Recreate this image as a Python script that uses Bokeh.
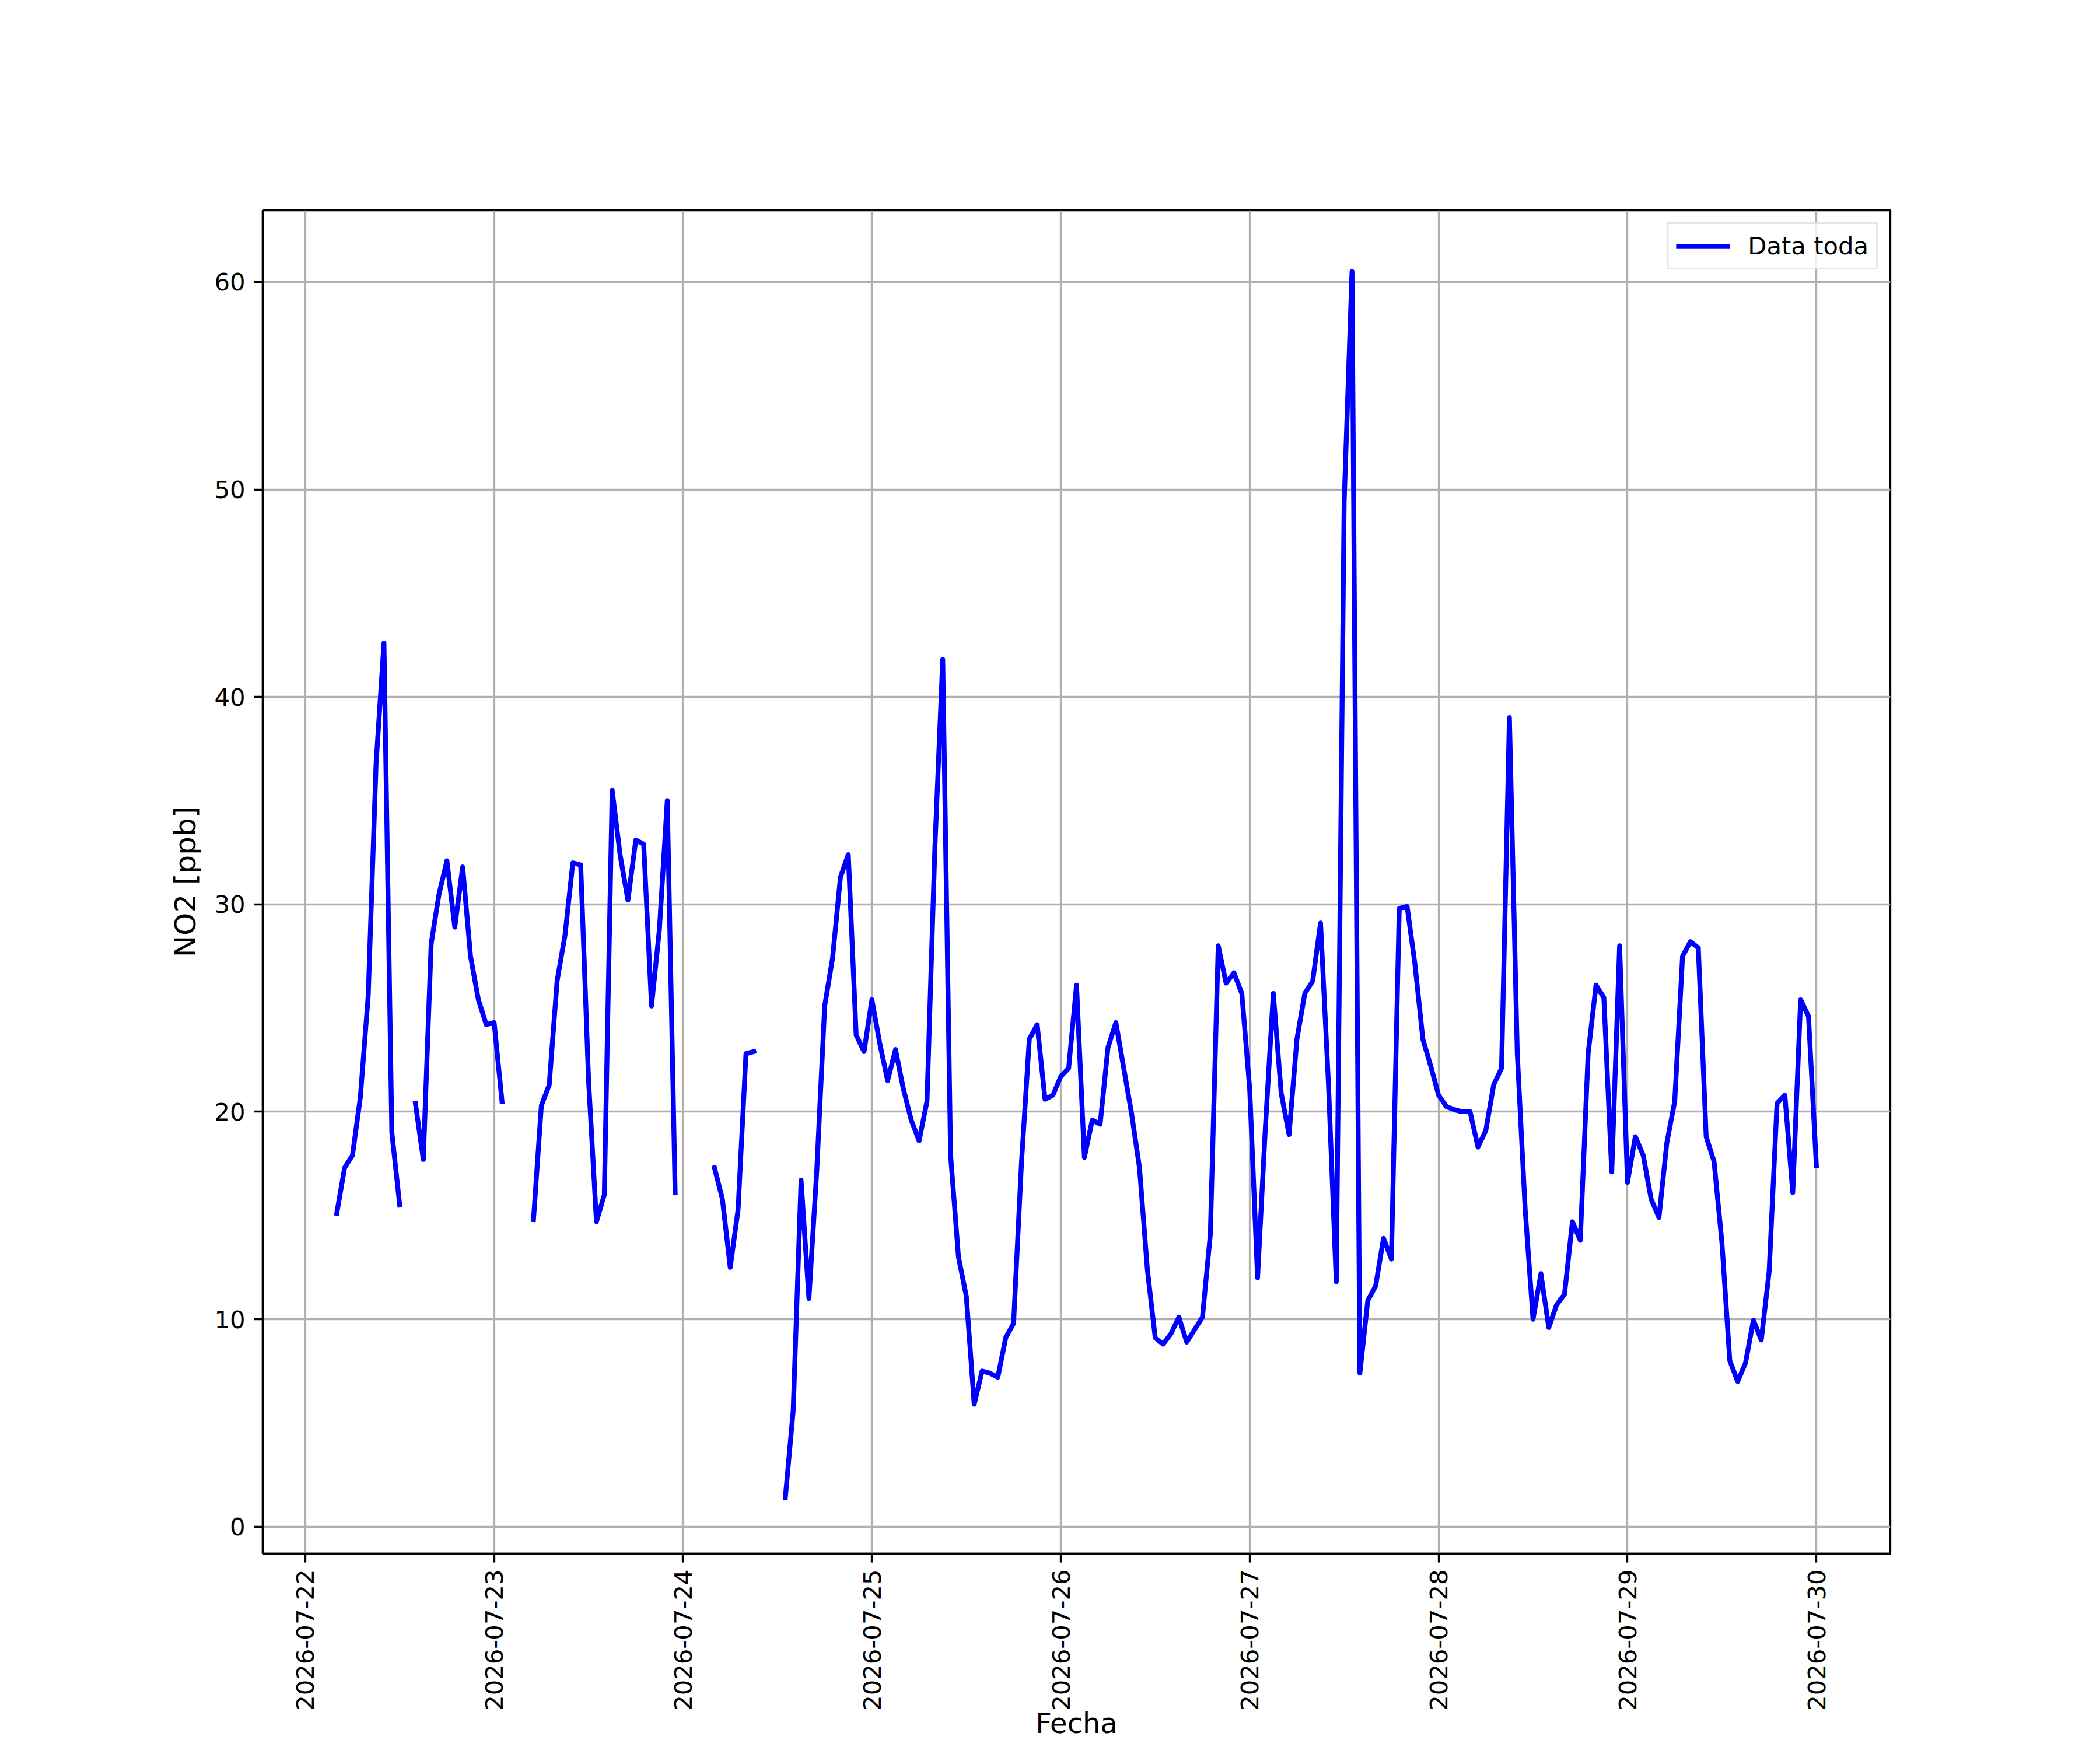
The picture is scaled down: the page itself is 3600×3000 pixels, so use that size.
import math
import numpy as np
import pandas as pd
from bokeh.plotting import figure
from bokeh.models import Range1d, FixedTicker, DatetimeTickFormatter, ColumnDataSource
from bokeh.embed import file_html
from bokeh.resources import INLINE

nan = float("nan")

# hourly NO2 [ppb] readings, 2026-07-22 04:00 .. 2026-07-30 00:00
day22 = [15.1, 17.3, 17.9, 20.7, 25.6, 36.8, 42.6, 19.0, 15.5, nan,
         20.4, 17.7, 28.1, 30.5, 32.1, 28.9, 31.8, 27.5, 25.4, 24.2]          # 04..23
day23 = [24.3, 20.5, nan, nan, nan, 14.8, 20.3, 21.3, 26.3, 28.5, 32.0, 31.9,
         21.5, 14.7, 16.0, 35.5, 32.4, 30.2, 33.1, 32.9, 25.1, 28.8, 35.0, 16.1]
day24 = [nan, nan, nan, nan, 17.3, 15.8, 12.5, 15.3, 22.8, 22.9, nan, nan,
         nan, 1.4, 5.6, 16.7, 11.0, 17.2, 25.1, 27.4, 31.3, 32.4, 23.7, 22.9]
day25 = [25.4, 23.3, 21.5, 23.0, 21.1, 19.6, 18.6, 20.5, 32.7, 41.8, 17.9, 13.0,
         11.1, 5.9, 7.5, 7.4, 7.2, 9.1, 9.8, 17.5, 23.5, 24.2, 20.6, 20.8]
day26 = [21.7, 22.1, 26.1, 17.8, 19.6, 19.4, 23.1, 24.3, 22.1, 19.9, 17.3, 12.4,
         9.1, 8.8, 9.3, 10.1, 8.9, 9.5, 10.1, 14.1, 28.0, 26.2, 26.7, 25.7]
day27 = [21.1, 12.0, 19.3, 25.7, 20.9, 18.9, 23.5, 25.7, 26.3, 29.1, 21.4, 11.8,
         49.4, 60.5, 7.4, 10.9, 11.6, 13.9, 12.9, 29.8, 29.9, 27.1, 23.5, 22.2]
day28 = [20.8, 20.25, 20.1, 20.0, 20.0, 18.3, 19.1, 21.3, 22.1, 39.0, 22.8, 15.3,
         10.0, 12.2, 9.6, 10.7, 11.2, 14.7, 13.8, 22.8, 26.1, 25.5, 17.1, 28.0]
day29 = [16.6, 18.8, 17.9, 15.8, 14.9, 18.5, 20.5, 27.5, 28.2, 27.9, 18.8, 17.6,
         13.7, 8.0, 7.0, 7.9, 9.95, 9.0, 12.3, 20.4, 20.8, 16.1, 25.4, 24.6]
day30 = [17.4]                                                                  # 00

first_time = "2026-07-22 04:00"
last_time = "2026-07-30 00:00"
tick_dates = ["2026-07-22", "2026-07-23", "2026-07-24", "2026-07-25", "2026-07-26",
              "2026-07-27", "2026-07-28", "2026-07-29", "2026-07-30"]
y_ticks = [0, 10, 20, 30, 40, 50, 60]
x_label = "Fecha"
y_label = "NO2 [ppb]"
series_name = "Data toda"

values = day22 + day23 + day24 + day25 + day26 + day27 + day28 + day29 + day30
times = pd.date_range(first_time, last_time, freq="h")
src = ColumnDataSource(data=dict(t=times, v=np.array(values, dtype=float)))

# axis padding around the data (fraction of the data span)
t0, t1 = times[0], times[-1]
tspan = t1 - t0
vmin, vmax = np.nanmin(values), np.nanmax(values)
vspan = vmax - vmin
pad_top, pad_bottom = 0.05, 0.0457

FONT = "DejaVu Sans"
LW = 3.33

p = figure(width=3584, height=2984, output_backend="svg", toolbar_location=None,
           x_axis_type="datetime",
           x_range=Range1d(t0 - 0.05 * tspan, t1 + 0.05 * tspan),
           y_range=Range1d(vmin - pad_bottom * vspan, vmax + pad_top * vspan),
           min_border_left=450, min_border_right=344,
           min_border_top=360, min_border_bottom=314)

p.line("t", "v", source=src, line_color="#0000ff", line_width=8.33,
       line_join="round", line_cap="square", legend_label=series_name)

tick_ms = [pd.Timestamp(d).value / 1e6 for d in tick_dates]
p.xaxis.ticker = FixedTicker(ticks=tick_ms)
fmt = "%Y-%m-%d"
p.xaxis.formatter = DatetimeTickFormatter(
    microseconds=fmt, milliseconds=fmt, seconds=fmt, minsec=fmt, minutes=fmt,
    hourmin=fmt, hours=fmt, days=fmt, months=fmt, years=fmt)
p.xaxis.major_label_orientation = math.pi / 2
p.yaxis.ticker = FixedTicker(ticks=y_ticks)

for ax in (p.xaxis, p.yaxis):
    ax.axis_line_width = LW
    ax.axis_line_color = "black"
    ax.major_tick_line_width = LW
    ax.major_tick_line_color = "black"
    ax.major_tick_out = 15
    ax.major_tick_in = 0
    ax.minor_tick_out = 0
    ax.minor_tick_in = 0
    ax.major_label_text_font = FONT
    ax.major_label_text_font_size = "41.7px"
    ax.major_label_text_color = "black"
    ax.axis_label_text_font = FONT
    ax.axis_label_text_font_style = "normal"
    ax.axis_label_text_color = "black"

p.yaxis.major_label_standoff = 15
p.yaxis.axis_label = y_label
p.yaxis.axis_label_text_font_size = "50px"
p.yaxis.axis_label_standoff = 17

p.xaxis.major_label_standoff = 12
p.xaxis.axis_label = x_label
p.xaxis.axis_label_text_font_size = "48px"
p.xaxis.axis_label_text_line_height = 1.0
p.xaxis.axis_label_standoff = -10

p.grid.grid_line_color = "#b0b0b0"
p.grid.grid_line_width = LW
p.outline_line_color = "black"
p.outline_line_width = LW
p.background_fill_color = "white"
p.border_fill_color = "white"

lg = p.legend[0]
lg.location = "top_right"
lg.margin = 21
lg.padding = 13
lg.spacing = 0
lg.glyph_width = 92
lg.glyph_height = 40
lg.label_standoff = 31
lg.label_text_font = FONT
lg.label_text_font_size = "41.7px"
lg.label_text_color = "black"
lg.border_line_color = "#cccccc"
lg.border_line_width = 3.3
lg.background_fill_color = "white"
lg.background_fill_alpha = 0.8

open("out.html", "w").write(file_html(p, INLINE))
